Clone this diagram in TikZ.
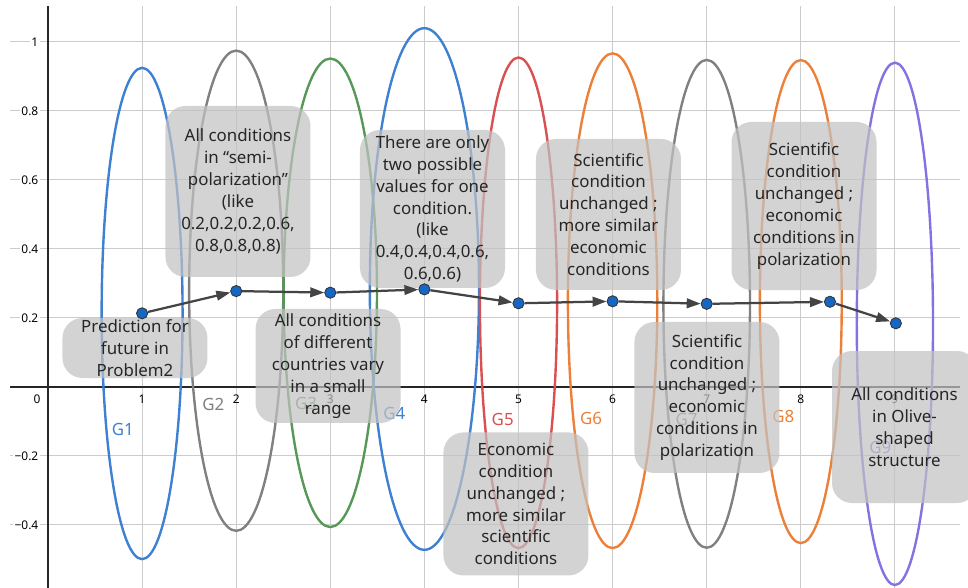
\documentclass[tikz,border=0pt]{standalone}
\usepackage{fontspec}
\setmainfont{Noto Sans}
\usetikzlibrary{arrows.meta}
\definecolor{gblue}{RGB}{62,128,210}
\definecolor{ggray}{RGB}{128,128,128}
\definecolor{ggreen}{RGB}{86,152,86}
\definecolor{gred}{RGB}{218,80,80}
\definecolor{gorange}{RGB}{236,128,56}
\definecolor{gpurple}{RGB}{132,114,226}
\definecolor{dotblue}{RGB}{22,102,196}
\definecolor{ink}{RGB}{68,68,68}
\definecolor{gridgray}{RGB}{204,204,204}
\definecolor{notegray}{RGB}{194,194,194}
\newcommand{\notefont}{\fontsize{12}{15.6}\selectfont}
\newcommand{\tickfont}{\fontsize{8.5}{10}\selectfont}
\tikzset{
  >={Triangle[length=3.5mm,width=2.4mm]},
  note/.style={fill=notegray,fill opacity=0.72,text opacity=1,text=black!85,
    rounded corners=0.5cm,minimum width=3.625cm,minimum height=#1,inner sep=0pt,
    align=center,font=\notefont},
  note/.default=3.8cm,
  grp/.style={draw=#1,line width=1.7pt},
  glabel/.style={text=#1,font=\notefont},
  dot/.style={circle,fill=dotblue,draw=black!80,line width=0.6pt,minimum size=0.28cm,inner sep=0pt},
  flow/.style={->,line width=1.6pt,draw=ink},
  ytick/.style={anchor=east,fill=white,inner sep=1pt,font=\tickfont},
  xtick/.style={font=\tickfont},
  gridline/.style={gridgray,line width=0.7pt},
  axisline/.style={black!85,line width=0.9pt},
}

\begin{document}
\begin{tikzpicture}[x=2.3525cm,y=8.625cm]
  \useasboundingbox (-0.5101,-0.5826) rectangle (9.7768,1.1217);
  % grid and axes
  \foreach \v in {-0.4,-0.2,0.2,0.4,0.6,0.8,1} \draw[gridline] (-0.404,\v) -- (9.692,\v);
  \foreach \u in {1,...,9} \draw[gridline] (\u,-0.5826) -- (\u,1.104);
  \draw[axisline] (-0.404,0) -- (9.692,0);
  \draw[axisline] (0,-0.5826) -- (0,1.104);
  \foreach \v/\t [count=\k] in {1/1,0.8/0.8,0.6/0.6,0.4/0.4,0.2/0.2,-0.2/−0.2,-0.4/−0.4}
    \node[ytick] (ytick\k) at (-0.085,\v) {\t};
  \foreach \u in {1,...,9} \node[xtick] (xtick\u) at (\u,-0.0348) {\u};
  \node[xtick] (xtick0) at (-0.117,-0.0348) {0};
  % groups
  \foreach \x/\y/\a/\b/\c in {1/0.213/0.43/0.712/gblue,2/0.279/0.50/0.696/ggray,
      3/0.273/0.496/0.679/ggreen,4/0.284/0.58/0.756/gblue,5/0.244/0.41/0.711/gred,
      6/0.25/0.475/0.717/gorange,7/0.241/0.46/0.707/ggray,8/0.2475/0.435/0.70/gorange,
      9/0.183/0.405/0.757/gpurple}
    \draw[grp=\c] (\x,\y) ellipse [x radius=\a, y radius=\b];
  \foreach \n/\x/\y/\c in {1/0.794/-0.1246/gblue,2/1.757/-0.052/ggray,3/2.742/-0.047/ggreen,
      4/3.680/-0.076/gblue,5/4.832/-0.094/gred,6/5.770/-0.091/gorange,7/6.786/-0.094/ggray,
      8/7.814/-0.086/gorange,9/8.846/-0.175/gpurple}
    \node[glabel=\c] (g\n) at (\x,\y) {G\n};
  % notes
  \node[note=4.275cm] (semi) at (2.019,0.5667) {All conditions\\in “semi-\\polarization”\\(like\\0.2,0.2,0.2,0.6,\\0.8,0.8,0.8)};
  \node[note=3.95cm] (twoval) at (4.086,0.516) {There are only\\two possible\\values for one\\condition.\\(like\\0.4,0.4,0.4,0.6,\\0.6,0.6)};
  \node[note=3.775cm] (scieco) at (5.956,0.5) {Scientific\\condition\\unchanged ;\\more similar\\economic\\conditions};
  \node[note=4.2cm] (scipol) at (8.034,0.5246) {Scientific\\condition\\unchanged ;\\economic\\conditions in\\polarization};
  \node[note=1.5cm] (predict) at (0.9245,0.113) {Prediction for\\future in\\Problem2};
  \node[note=2.85cm] (smallrange) at (2.9756,0.0609) {All conditions\\of different\\countries vary\\in a small\\range};
  \node[note=3.575cm] (ecosci) at (4.973,-0.339) {Economic\\condition\\unchanged ;\\more similar\\scientific\\conditions};
  \node[note=3.775cm] (scipol2) at (7.003,-0.0304) {Scientific\\condition\\unchanged ;\\economic\\conditions in\\polarization};
  \node[note=3.8cm] (olive) at (9.102,-0.116) {All conditions\\in Olive-\\shaped\\structure};
  % path of points
  \foreach \i/\x/\y in {1/1/0.2135,2/2/0.278,3/3/0.2734,4/4/0.283,5/5/0.2426,
      6/6/0.2484,7/7/0.241,8/8.31/0.247,9/9.01/0.1846}
    \node[dot] (p\i) at (\x,\y) {};
  \foreach \i/\j in {1/2,2/3,3/4,4/5,5/6,6/7,7/8,8/9} \draw[flow] (p\i) -- (p\j);
\end{tikzpicture}
\end{document}
